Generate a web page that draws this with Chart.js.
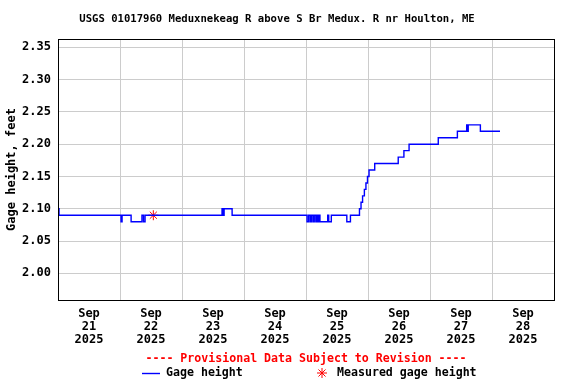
<!DOCTYPE html>
<html>
<head>
<meta charset="utf-8">
<script src="https://cdn.jsdelivr.net/npm/chart.js@4.4.1/dist/chart.umd.min.js"></script>
<style>
  html, body { margin: 0; padding: 0; background: #fff; }
</style>
</head>
<body>
<canvas id="chart" width="576" height="384"></canvas>
<script>
// hours since Sep 21 2025 00:00, each entry is where the gage reading changes
const gageHours = [
    0.0, 0.4, 24.4, 24.8, 28.3, 32.5, 33.1, 33.7,
    63.5, 63.9, 64.3, 67.4,
    96.4, 97.0, 97.6, 98.1, 98.7, 99.2, 99.8, 100.3, 100.8, 101.1, 101.4, 104.4, 104.8, 105.8,
    111.8, 113.2,
    116.7, 117.3, 117.9, 118.6, 119.2, 119.8, 120.4, 122.6,
    131.7, 133.9, 135.9, 147.2, 154.6, 158.2, 158.5, 158.8, 163.5, 171.1
];
const gageValues = [
    2.10, 2.09, 2.08, 2.09, 2.08, 2.09, 2.08, 2.09,
    2.10, 2.09, 2.10, 2.09,
    2.08, 2.09, 2.08, 2.09, 2.08, 2.09, 2.08, 2.09, 2.08, 2.09, 2.08, 2.09, 2.08, 2.09,
    2.08, 2.09,
    2.10, 2.11, 2.12, 2.13, 2.14, 2.15, 2.16, 2.17,
    2.18, 2.19, 2.20, 2.21, 2.22, 2.23, 2.22, 2.23, 2.22, 2.22
];
const measuredHours = [36.9];
const measuredValues = [2.09];

const dayLabels = ['21', '22', '23', '24', '25', '26', '27', '28'];
const monthLabel = 'Sep';
const yearLabel = '2025';
const yTicks = [2.00, 2.05, 2.10, 2.15, 2.20, 2.25, 2.30, 2.35];
const yMin = 1.9587;
const yMax = 2.3629;
const hoursShown = 192;

const titleText = 'USGS 01017960 Meduxnekeag R above S Br Medux. R nr Houlton, ME';
const provisionalText = '---- Provisional Data Subject to Revision ----';

const mono = '"DejaVu Sans Mono", "Liberation Mono", monospace';
const gridColor = '#cccccc';

// black box round the plot area
const frame = {
    id: 'frame',
    afterDraw(chart) {
        const a = chart.chartArea;
        const ctx = chart.ctx;
        ctx.save();
        ctx.strokeStyle = '#000';
        ctx.lineWidth = 1;
        ctx.strokeRect(Math.round(a.left) + 0.5, Math.round(a.top) + 0.5,
            Math.round(a.right - a.left), Math.round(a.bottom - a.top));
        ctx.restore();
    }
};

// notice + legend under the axis, laid out like the USGS plot
const notes = {
    id: 'notes',
    afterDraw(chart) {
        const ctx = chart.ctx;
        ctx.save();
        ctx.font = 'bold 11.6px ' + mono;
        ctx.textBaseline = 'middle';

        ctx.fillStyle = '#ff0000';
        ctx.textAlign = 'center';
        ctx.fillText(provisionalText, 306, 358.5);

        ctx.textAlign = 'left';
        ctx.strokeStyle = '#0000ff';
        ctx.lineWidth = 1.4;
        ctx.beginPath();
        ctx.moveTo(142, 373.5);
        ctx.lineTo(160, 373.5);
        ctx.stroke();
        ctx.fillStyle = '#000';
        ctx.fillText(chart.data.datasets[0].label, 166, 372.5);

        ctx.strokeStyle = '#ff0000';
        ctx.fillStyle = '#ff0000';
        ctx.lineWidth = 1;
        Chart.helpers.drawPoint(ctx, { pointStyle: 'star', radius: 5, borderWidth: 1 }, 322, 373);
        ctx.fillStyle = '#000';
        ctx.fillText(chart.data.datasets[1].label, 337, 372.5);
        ctx.restore();
    }
};

new Chart(document.getElementById('chart'), {
    type: 'line',
    data: {
        datasets: [
            {
                label: 'Gage height',
                data: gageHours.map((h, i) => ({ x: h, y: gageValues[i] })),
                borderColor: '#0000ff',
                borderWidth: 1.4,
                stepped: true,
                pointRadius: 0,
                fill: false
            },
            {
                label: 'Measured gage height',
                data: measuredHours.map((h, i) => ({ x: h, y: measuredValues[i] })),
                showLine: false,
                pointStyle: 'star',
                pointRadius: 5,
                borderColor: '#ff0000',
                backgroundColor: '#ff0000',
                pointBorderWidth: 1
            }
        ]
    },
    options: {
        responsive: false,
        animation: false,
        layout: { padding: { left: 0, right: 22, top: 0, bottom: 40 } },
        plugins: {
            legend: { display: false },
            tooltip: { enabled: false },
            title: {
                display: true,
                text: titleText,
                color: '#000',
                font: { family: mono, size: 10.6, weight: 'bold' },
                padding: { top: 12.5, bottom: 13.8 }
            }
        },
        scales: {
            x: {
                type: 'linear',
                position: 'bottom',
                min: 0,
                max: hoursShown,
                ticks: { display: false, stepSize: 24 },
                grid: { color: gridColor, drawTicks: false },
                border: { display: false },
                afterFit: s => { s.height = 0; }
            },
            days: {
                type: 'linear',
                axis: 'x',
                position: 'bottom',
                min: 0,
                max: hoursShown,
                grid: { display: false, drawTicks: false },
                border: { display: false },
                afterBuildTicks: s => { s.ticks = dayLabels.map((d, i) => ({ value: i * 24 + 12 })); },
                ticks: {
                    autoSkip: false,
                    maxRotation: 0,
                    padding: 7,
                    color: '#000',
                    font: { family: mono, size: 12, weight: 'bold', lineHeight: 1.08 },
                    callback: (v, i) => [monthLabel, dayLabels[i], yearLabel]
                },
                afterFit: s => { s.height = 44; }
            },
            y: {
                min: yMin,
                max: yMax,
                afterBuildTicks: s => { s.ticks = yTicks.map(v => ({ value: v })); },
                ticks: {
                    padding: 7,
                    color: '#000',
                    font: { family: mono, size: 12, weight: 'bold' },
                    callback: v => v.toFixed(2)
                },
                grid: { color: gridColor, drawTicks: false },
                border: { display: false },
                title: {
                    display: true,
                    text: 'Gage height, feet',
                    color: '#000',
                    font: { family: mono, size: 12, weight: 'bold' },
                    padding: { top: 5, bottom: 0 }
                },
                afterFit: s => { s.width = 58; }
            }
        }
    },
    plugins: [frame, notes]
});
</script>
</body>
</html>
